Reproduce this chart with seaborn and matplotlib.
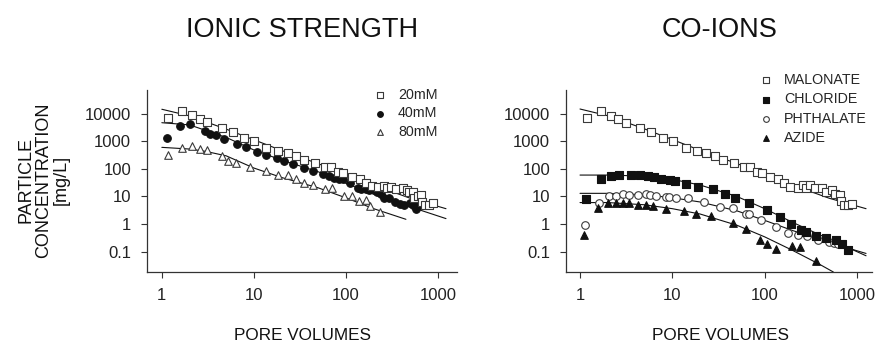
import numpy as np
import pandas as pd
import matplotlib
matplotlib.use("Agg")
import matplotlib.pyplot as plt
import seaborn as sns

# ---------------- data ----------------
# Left panel: IONIC STRENGTH
x_20mM = [1.18, 1.65, 2.11, 2.6, 3.07, 4.47, 5.87, 7.8, 10.1, 13.7, 18.3, 23.2, 28.5, 35.4, 46.5,
          59.7, 69.4, 82.6, 94, 116, 141, 166, 191, 224, 262, 277, 310, 351, 414, 457, 480, 532,
          550, 600, 655, 673, 730, 790, 890]
y_20mM = [6900, 12900, 8900, 6600, 5000, 3100, 2150, 1370, 1000, 600, 435, 370, 290, 205, 170,
          117, 117, 77, 71, 52, 43, 30, 24, 22.5, 24.5, 21, 22.5, 19, 19.5, 17, 14.4, 15,
          8.5, 10.6, 11.2, 6.3, 5.1, 4.8, 5.9]

x_40mM = [1.13, 1.58, 2.04, 2.94, 3.34, 3.85, 4.73, 6.5, 8.3, 10.9, 13.7, 17.6, 21.1, 26.7, 35,
          44, 56, 65.5, 75, 84, 94, 111, 135, 147, 166, 180, 197, 218, 242, 262, 290, 337,
          383, 432, 490, 532, 580, 620]
y_40mM = [1290, 3760, 4200, 2400, 1870, 1670, 1230, 780, 630, 425, 330, 250, 195, 156, 105,
          85, 63, 55, 48, 42, 42, 30, 20.5, 19.4, 19, 17, 19, 14.8, 11.8, 8.5, 9, 6.3,
          5.3, 4.8, 5.9, 4.8, 3.6, 4.8]

x_80mM = [1.18, 1.65, 2.11, 2.6, 3.07, 4.47, 5.27, 6.4, 9.05, 13.7, 18.5, 23.2, 29, 35.4, 43.5,
          59, 70, 95, 117, 138, 166, 182, 235]
y_80mM = [320, 590, 660, 530, 475, 295, 200, 170, 120, 86, 58, 60, 43, 30, 27,
          18.5, 19.6, 10.5, 10.5, 6.7, 7.3, 4.4, 2.7]

# fitted curves, left panel
fit_x_20mM = [1, 2, 5, 10, 20, 50, 100, 200, 500, 1220]
fit_y_20mM = [14800, 8500, 2800, 1150, 470, 155, 64, 26, 8.6, 3.6]
fit_x_40mM = [1, 2, 5, 10, 20, 50, 100, 200, 500, 1220]
fit_y_40mM = [4800, 4000, 1400, 490, 210, 79, 30, 12, 4.2, 1.57]
fit_x_80mM = [1, 2, 3, 5, 10, 20, 50, 100, 200, 448]
fit_y_80mM = [610, 530, 435, 300, 108, 49, 20.6, 8.9, 3.6, 1.48]

# Right panel: CO-IONS
x_malonate = [1.18, 1.67, 2.15, 2.6, 3.12, 4.5, 5.8, 7.85, 10.2, 13.9, 18.6, 23.1, 28.9, 35.5, 46,
              59, 69, 81.6, 94, 114, 139, 162, 187, 230, 260, 281, 309, 354, 415, 465, 533,
              575, 660, 677, 717, 790, 890]
y_malonate = [6900, 12900, 8700, 6600, 4800, 3100, 2150, 1370, 1000, 600, 435, 370, 290, 205, 163,
              120, 120, 79, 71, 52, 43, 30, 22, 21, 26, 21, 26, 19.5, 19.5, 14.7, 17,
              12.8, 11.2, 6.9, 5.1, 4.8, 5.5]

x_chloride = [1.16, 1.67, 2.15, 2.62, 3.56, 4.5, 5.4, 6.4, 7.6, 9.4, 10.8, 13.9, 18.8, 27.6, 37,
              48, 67.5, 107, 148, 193, 245, 283, 361, 466, 596, 690, 800]
y_chloride = [7.9, 45, 55, 58, 58, 58, 56, 49, 44, 39, 36, 29.6, 22.4, 18.6, 12.1,
              8.9, 6, 3.2, 1.8, 0.98, 0.59, 0.51, 0.36, 0.3, 0.26, 0.18, 0.11]

x_phthalate = [1.13, 1.59, 2.04, 2.47, 2.94, 3.4, 4.27, 5.2, 5.7, 6.6, 8.6, 9.2, 11, 14.8, 22,
               33, 45, 62, 67.5, 90, 132, 180, 230, 289, 378, 500, 560, 615]
y_phthalate = [0.9, 5.9, 10.5, 10.5, 12, 11.7, 11.2, 12, 11.2, 10.3, 9.7, 9.7, 8.5, 8.5, 6.4,
               4.2, 3.8, 2.3, 2.4, 1.37, 0.78, 0.47, 0.41, 0.37, 0.27, 0.22, 0.21, 0.19]

x_azide = [1.1, 1.58, 2.03, 2.43, 2.89, 3.4, 4.27, 5.2, 6.1, 8.6, 13.4, 17.8, 26.5, 45, 63,
           88, 107, 134, 195, 240, 357]
y_azide = [0.39, 3.8, 5.6, 5.6, 5.9, 5.6, 4.8, 5.1, 4.5, 3.6, 3.0, 2.4, 1.96, 1.12, 0.64,
           0.26, 0.18, 0.12, 0.155, 0.145, 0.044]

# fitted curves, right panel
fit_x_malonate = [1, 2, 5, 10, 20, 50, 100, 200, 500, 1250]
fit_y_malonate = [15100, 8600, 2850, 1170, 475, 157, 64, 26, 8.6, 3.6]
fit_x_chloride = [1, 2, 5, 10, 20, 50, 100, 200, 500, 1250]
fit_y_chloride = [60, 60, 55, 42, 26, 10, 3.6, 1.15, 0.28, 0.07]
fit_x_phthalate = [1, 2, 5, 10, 20, 50, 100, 200, 500, 1250]
fit_y_phthalate = [13, 13, 11.5, 9, 6.3, 3.0, 1.35, 0.58, 0.21, 0.085]
fit_x_azide = [1, 2, 5, 10, 20, 50, 100, 200, 400, 553]
fit_y_azide = [6, 6, 5, 3.6, 2.3, 0.9, 0.34, 0.11, 0.033, 0.018]

x_ticks = [1, 10, 100, 1000]
x_tick_labels = ["1", "10", "100", "1000"]
y_ticks = [0.1, 1, 10, 100, 1000, 10000]
y_tick_labels = ["0.1", "1", "10", "100", "1000", "10000"]

# ---------------- style ----------------
sns.set_style("ticks")
plt.rcParams["font.family"] = ["Liberation Sans", "DejaVu Sans"]
plt.rcParams["axes.edgecolor"] = "#333333"
plt.rcParams["axes.linewidth"] = 0.9

fig = plt.figure(figsize=(8.81, 3.5), dpi=100)
axL = fig.add_axes([147 / 881, 1 - 272 / 350, (457 - 147) / 881, (272 - 90) / 350])
axR = fig.add_axes([566 / 881, 1 - 272 / 350, (872 - 566) / 881, (272 - 90) / 350])

OPEN_EDGE = "#3a3a3a"
MS = 30


def style_axis(ax, xlim):
    ax.set_xscale("log")
    ax.set_yscale("log")
    ax.set_xlim(*xlim)
    ax.set_ylim(10 ** -1.745, 10 ** 4.87)
    ax.set_xticks(x_ticks, labels=x_tick_labels)
    ax.set_yticks(y_ticks, labels=y_tick_labels)
    ax.xaxis.set_minor_locator(matplotlib.ticker.NullLocator())
    ax.yaxis.set_minor_locator(matplotlib.ticker.NullLocator())
    ax.tick_params(direction="out", length=4, width=0.8, pad=7.5, labelsize=12,
                   colors="#333333", labelcolor="#222222")
    for s in ("top", "right"):
        ax.spines[s].set_visible(False)
    ax.set_xlabel("")
    ax.set_ylabel("")


def fit_line(ax, xs, ys):
    sns.lineplot(x=xs, y=ys, ax=ax, color="#111111", linewidth=0.8,
                 estimator=None, sort=False, legend=False)


def points(ax, xs, ys, marker, filled, label, size=MS):
    sns.scatterplot(x=xs, y=ys, ax=ax, marker=marker, s=size,
                    facecolor=("#111111" if filled else "white"),
                    edgecolor=("#111111" if filled else OPEN_EDGE),
                    linewidth=0.8, label=label, zorder=3)


# ---- left panel ----
axL.set_xscale("log"); axL.set_yscale("log")
fit_line(axL, fit_x_20mM, fit_y_20mM)
fit_line(axL, fit_x_40mM, fit_y_40mM)
fit_line(axL, fit_x_80mM, fit_y_80mM)
points(axL, x_80mM, y_80mM, "^", False, "80mM")
points(axL, x_40mM, y_40mM, "o", True, "40mM")
points(axL, x_20mM, y_20mM, "s", False, "20mM")
style_axis(axL, (0.69, 1607))

hL, lL = axL.get_legend_handles_labels()
orderL = ["20mM", "40mM", "80mM"]
axL.legend([hL[lL.index(k)] for k in orderL], orderL, loc="upper left",
           bbox_to_anchor=(373 / 881, 1 - 88 / 350), bbox_transform=fig.transFigure,
           frameon=False, fontsize=10.3, handlelength=1.0, handletextpad=0.75,
           labelspacing=0.3, borderpad=0, borderaxespad=0, markerscale=0.75)

# ---- right panel ----
axR.set_xscale("log"); axR.set_yscale("log")
fit_line(axR, fit_x_malonate, fit_y_malonate)
fit_line(axR, fit_x_chloride, fit_y_chloride)
fit_line(axR, fit_x_phthalate, fit_y_phthalate)
fit_line(axR, fit_x_azide, fit_y_azide)
points(axR, x_phthalate, y_phthalate, "o", False, "PHTHALATE")
points(axR, x_azide, y_azide, "^", True, "AZIDE")
points(axR, x_chloride, y_chloride, "s", True, "CHLORIDE")
points(axR, x_malonate, y_malonate, "s", False, "MALONATE")
style_axis(axR, (0.705, 1450))

hR, lR = axR.get_legend_handles_labels()
orderR = ["MALONATE", "CHLORIDE", "PHTHALATE", "AZIDE"]
axR.legend([hR[lR.index(k)] for k in orderR], orderR, loc="upper left",
           bbox_to_anchor=(759 / 881, 1 - 73 / 350), bbox_transform=fig.transFigure,
           frameon=False, fontsize=10.3, handlelength=1.0, handletextpad=0.75,
           labelspacing=0.37, borderpad=0, borderaxespad=0, markerscale=0.75)

# ---- titles and labels ----
fig.text(302 / 881, 1 - 30 / 350, "IONIC STRENGTH", ha="center", va="center",
         fontsize=19.5, color="#111111")
fig.text(720 / 881, 1 - 30 / 350, "CO-IONS", ha="center", va="center",
         fontsize=19.5, color="#111111")
fig.text(302 / 881, 1 - 335 / 350, "PORE VOLUMES", ha="center", va="center",
         fontsize=12.3, color="#111111")
fig.text(720 / 881, 1 - 335 / 350, "PORE VOLUMES", ha="center", va="center",
         fontsize=12.3, color="#111111")
fig.text(44 / 881, 1 - 180 / 350, "PARTICLE\nCONCENTRATION\n[mg/L]", ha="center",
         va="center", rotation=90, fontsize=13, linespacing=1.05, color="#111111",
         multialignment="center")

fig.savefig("out.png", dpi=100)
